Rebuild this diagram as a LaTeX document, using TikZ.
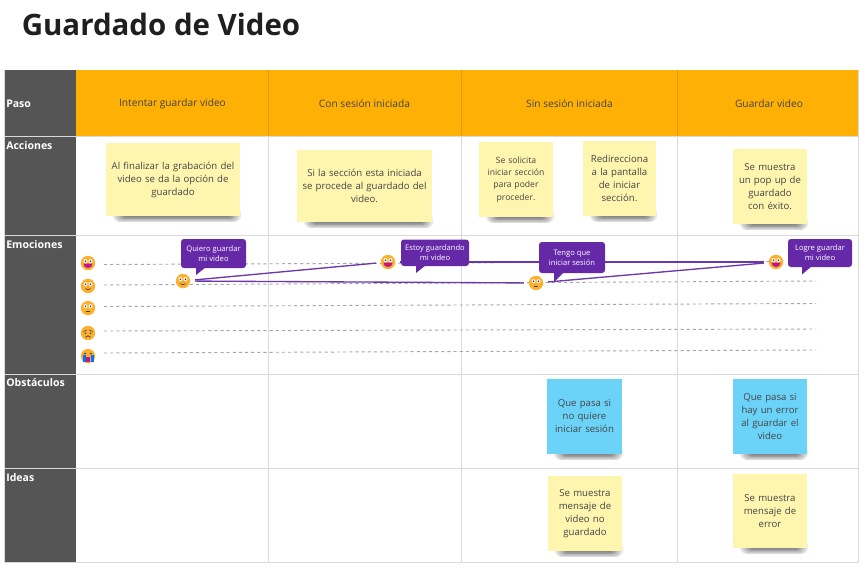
\documentclass[tikz,border=0pt]{standalone}
\usepackage{fontspec}
\setmainfont{Open Sans}
\definecolor{orangeH}{HTML}{FFB005}
\definecolor{slateC}{HTML}{555555}
\definecolor{gridC}{HTML}{DADADA}
\definecolor{yellowN}{HTML}{FEF6AF}
\definecolor{blueN}{HTML}{6CD3F8}
\definecolor{purpleC}{HTML}{6529A8}
\definecolor{purpleL}{HTML}{6B38AC}
\definecolor{inkC}{HTML}{444444}
\definecolor{faceC}{HTML}{FDB02E}
\definecolor{mouthC}{HTML}{C0188A}
\tikzset{
  gridline/.style={draw=gridC,line width=.75pt},
  stephead/.style={font=\fontsize{7.65}{10}\selectfont,text=inkC,anchor=center},
  rowlabel/.style={font=\fontsize{7.9}{10}\selectfont\bfseries,text=white,anchor=west,inner sep=0pt},
  note/.style={inner sep=1pt,align=center,text=inkC,font=\fontsize{7.2}{9.75}\selectfont},
  smallnote/.style={font=\fontsize{6.45}{9.3}\selectfont},
  bubble/.style={fill=purpleC,rounded corners=2.2pt,text=white,align=center,inner sep=0pt,font=\fontsize{5.7}{7.7}\selectfont},
  emo/.style={circle,fill=faceC,inner sep=0pt,minimum size=10.8pt},
  guide/.style={draw=black!35,line width=.7pt,dash pattern=on 2.3pt off 2.3pt},
  trace/.style={draw=purpleL,line width=1pt,shorten >=3.5pt,shorten <=3.5pt},
}
% note: name, x1, y1, x2, y2, colour, style, text
\newcommand{\stickynote}[8]{%
  \foreach \k in {1,...,10}{
    \draw[black,opacity=.075,line width={\k*1.1pt},line cap=round]
      ({#2+14+(10-\k)*.9},{#5-1}) -- ({#4-6-(10-\k)*.9},{#5-1});
  }
  \node[note,#7,fill=#6,minimum width={(#4-#2)*.75},minimum height={(#5-#3)*.75},text width={(#4-#2-6)*.75}]
    (#1) at ({(#2+#4)/2},{(#3+#5)/2}) {#8};
}
% bubble: name, x1, y1, x2, y2, tip x, tip y, text
\newcommand{\speech}[8]{%
  \fill[purpleC] (#6,#5-1) -- (#6,#7) -- ({#6+10},#5-1) -- cycle;
  \node[bubble,minimum width={(#4-#2)*.75},minimum height={(#5-#3)*.75}]
    (#1) at ({(#2+#4)/2},{(#3+#5)/2}) {#8};
}
\newcommand{\eyes}[1]{%
  \fill[white] ($(#1)+(-2.5,-1.8)$) circle[radius=2];
  \fill[white] ($(#1)+(2.5,-1.8)$) circle[radius=2];
  \fill[black!80] ($(#1)+(-2.5,-1.8)$) circle[radius=.9];
  \fill[black!80] ($(#1)+(2.5,-1.8)$) circle[radius=.9];
}
\newcommand{\grinface}[1]{%
  \fill[mouthC] ($(#1)+(-4.6,.6)$) arc[start angle=180,end angle=0,radius=4.6] -- cycle;
  \eyes{#1}}
\newcommand{\smileface}[1]{\eyes{#1}
  \draw[black!75,line width=.5pt] ($(#1)+(-2.6,2.6)$) .. controls ($(#1)+(-1,4.2)$) and ($(#1)+(1,4.2)$) .. ($(#1)+(2.6,2.6)$);}
\newcommand{\flatface}[1]{\eyes{#1}
  \draw[black!75,line width=.6pt] ($(#1)+(-2.3,3.2)$) -- ($(#1)+(2.3,3.2)$);}
\newcommand{\sadface}[1]{%
  \draw[black!70,line width=.5pt] ($(#1)+(-4.5,-1.5)$) -- ($(#1)+(-1.3,-3)$);
  \draw[black!70,line width=.5pt] ($(#1)+(4.5,-1.5)$) -- ($(#1)+(1.3,-3)$);
  \fill[black!70] ($(#1)+(-2.6,.2)$) circle[radius=.9];
  \fill[black!70] ($(#1)+(2.6,.2)$) circle[radius=.9];
  \draw[black!75,line width=.6pt] ($(#1)+(-2.6,4.2)$) .. controls ($(#1)+(-1,2.5)$) and ($(#1)+(1,2.5)$) .. ($(#1)+(2.6,4.2)$);}
\newcommand{\cryface}[1]{%
  \fill[blue!55!cyan] ($(#1)+(-5.5,-1)$) rectangle ($(#1)+(-2.5,6.4)$);
  \fill[blue!55!cyan] ($(#1)+(2.5,-1)$) rectangle ($(#1)+(5.5,6.4)$);
  \fill[mouthC] ($(#1)+(-2,.5)$) rectangle ($(#1)+(2,5.5)$);
  \fill[black!75] ($(#1)+(-3,-2.4)$) circle[radius=.9];
  \fill[black!75] ($(#1)+(3,-2.4)$) circle[radius=.9];}
\usetikzlibrary{calc}
\begin{document}
\begin{tikzpicture}[x=.75pt,y=-.75pt]
\useasboundingbox (0,0) rectangle (865,568);
\fill[white] (0,0) rectangle (865,568);
\node[anchor=west,inner sep=0pt,font=\fontsize{22.1}{26}\selectfont\bfseries,text=black!88] (title) at (21.5,24) {Guardado de Video};

% table
\fill[orangeH] (76,70) rectangle (858,136);
\fill[slateC] (4,70) rectangle (76,562);
\foreach \yy in {136,235,374,468}{\draw[gridline] (4,\yy) -- (858,\yy);}
\draw[gridline] (858,70) -- (858,562) -- (4,562) -- (4,70);
\foreach \xx in {268,461,677}{
  \draw[gridline] (\xx,136) -- (\xx,562);
  \draw[draw=black!12!orangeH,line width=.6pt] (\xx,70) -- (\xx,136);
}

\node[rowlabel] (lpaso) at (6,103.5) {Paso};
\node[rowlabel] (lacc) at (6,145.5) {Acciones};
\node[rowlabel] (lemo) at (6,244.5) {Emociones};
\node[rowlabel] (lobs) at (6,383) {Obstáculos};
\node[rowlabel] (lide) at (6,477.5) {Ideas};

\node[stephead] (h1) at (172.5,103.5) {Intentar guardar video};
\node[stephead] (h2) at (364.5,103.5) {Con sesión iniciada};
\node[stephead] (h3) at (569.5,103.5) {Sin sesión iniciada};
\node[stephead] (h4) at (769,103.5) {Guardar video};

% notes
\stickynote{a1}{106}{143}{240}{216}{yellowN}{}{Al finalizar la grabación del\\video se da la opción de\\guardado}
\stickynote{a2}{297}{150}{432}{222}{yellowN}{}{Si la sección esta iniciada\\se procede al guardado del\\video.}
\stickynote{a3}{479}{142}{553}{217}{yellowN}{smallnote}{Se solicita\\iniciar sección\\para poder\\proceder.}
\stickynote{a4}{583}{141}{656}{216}{yellowN}{}{Redirecciona\\a la pantalla\\de iniciar\\sección.}
\stickynote{a5}{733}{149}{807}{224}{yellowN}{}{Se muestra\\un pop up de\\guardado\\con éxito.}
\stickynote{o1}{547}{379}{622}{454}{blueN}{}{Que pasa si\\no quiere\\iniciar sesión}
\stickynote{o2}{733}{379}{807}{454}{blueN}{}{Que pasa si\\hay un error\\al guardar el\\video}
\stickynote{i1}{548}{476}{622}{551}{yellowN}{}{Se muestra\\mensaje de\\video no\\guardado}
\stickynote{i2}{733}{474}{807}{548}{yellowN}{}{Se muestra\\mensaje de\\error}

% guides
\coordinate (g1a) at (104,264.5); \coordinate (g1b) at (785,261.5);
\coordinate (g2a) at (104,285); \coordinate (g2b) at (816,281);
\coordinate (g3a) at (104,306.5); \coordinate (g3b) at (816,303.5);
\coordinate (g4a) at (104,331); \coordinate (g4b) at (816,329);
\coordinate (g5a) at (104,353); \coordinate (g5b) at (816,350);
\foreach \g in {1,...,5}{\draw[guide] (g\g a) -- (g\g b);}

% emotion nodes
\node[emo] (s1) at (88,263) {}; \grinface{s1}
\node[emo] (s2) at (88,286) {}; \smileface{s2}
\node[emo] (s3) at (88,308) {}; \flatface{s3}
\node[emo] (s4) at (88,333) {}; \sadface{s4}
\node[emo] (s5) at (88,356) {}; \cryface{s5}

\node[emo] (e1) at (183,281) {}; \smileface{e1}
\node[emo] (e2) at (388,262) {}; \grinface{e2}
\node[emo] (e3) at (536,283) {}; \flatface{e3}
\node[emo] (e4) at (776,262) {}; \grinface{e4}

\draw[trace] (e1) -- (e2);
\draw[trace] (e1) -- (e3);
\draw[trace] (e2) -- (e4);
\draw[trace] (e3) -- (e4);

\speech{b1}{181}{239}{246}{268}{196}{275}{Quiero guardar\\mi video}
\speech{b2}{401}{239.5}{469}{266}{416}{273}{Estoy guardando\\mi video}
\speech{b3}{539}{242}{605}{273}{554}{282}{Tengo que\\iniciar sesión}
\speech{b4}{788}{239}{852}{267}{802}{274.5}{Logre guardar\\mi video}
\end{tikzpicture}
\end{document}
